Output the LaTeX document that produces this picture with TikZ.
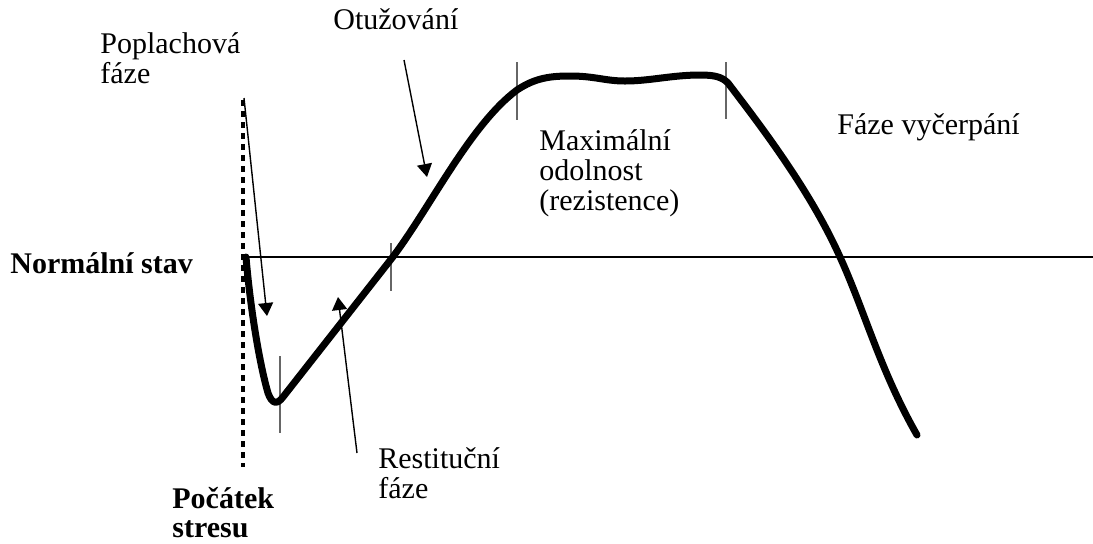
\documentclass[tikz,border=0pt]{standalone}
\usepackage{fontspec}
\setmainfont{Liberation Serif}
\usetikzlibrary{arrows.meta, positioning}

\begin{document}
\begin{tikzpicture}[x=0.5pt, y=-0.5pt,
    phaselabel/.style={anchor=base west, inner sep=0pt, align=left, font=\fontsize{15}{15}\selectfont},
    boldlabel/.style={phaselabel, font=\fontsize{15}{14.5}\selectfont\bfseries},
    tick/.style={draw=black!60, line width=0.7pt},
    pointer/.style={draw, -{Triangle[length=6.5pt, width=7.5pt]}, line width=0.7pt},
    stresscurve/.style={draw, line width=3.5pt, line cap=round, line join=round}]
    \useasboundingbox (0,0) rectangle (1093,543);

    % axes: normal level and onset of stress
    \coordinate (normal start) at (246,257);
    \coordinate (normal end) at (1093,257);
    \coordinate (stress top) at (243,100);
    \coordinate (stress bottom) at (243,467);
    \draw [line width=0.6pt] (normal start) -- (normal end);
    \draw [line width=1.6pt, dash pattern=on 3pt off 2.5pt] (stress top) -- (stress bottom);

    % phase boundaries
    \draw [tick] (280,356) -- (280,433);
    \draw [tick] (391,243) -- (391,291);
    \draw [tick] (517,62) -- (517,120);
    \draw [tick] (726,62) -- (726,119);

    % the curve
    \draw [stresscurve] (normal start) .. controls (250,305) and (259,362) .. (268,393)
        .. controls (272,404) and (277,405) .. (283,397)
        -- (392,258)
        .. controls (430,208) and (470,125) .. (517,90)
        .. controls (535,78) and (550,76) .. (570,76)
        .. controls (595,76) and (605,81) .. (625,81)
        .. controls (650,81) and (672,75) .. (700,75)
        .. controls (715,75) and (722,77) .. (728,83)
        .. controls (760,125) and (810,190) .. (840,257)
        .. controls (865,312) and (880,370) .. (917,435);

    % labels (base = last line)
    \node [phaselabel] (alarm) at (100,83) {Poplachová\\fáze};
    \node [phaselabel] (harden) at (333,29) {Otužování};
    \node [phaselabel] (resist) at (539,210) {Maximální\\odolnost\\(rezistence)};
    \node [phaselabel] (exhaust) at (837,134) {Fáze vyčerpání};
    \node [boldlabel] (normal) at (10,273) {Normální stav};
    \node [phaselabel] (restore) at (378,498) {Restituční\\fáze};
    \node [boldlabel] (onset) at (172,537) {Počátek\\stresu};

    % pointers
    \coordinate (alarm from) at (244,98);
    \coordinate (alarm to) at (267,316);
    \coordinate (harden from) at (404,60);
    \coordinate (harden to) at (427,177);
    \coordinate (restore from) at (357,453);
    \coordinate (restore to) at (338,297);
    \path [pointer] (alarm from) -- (alarm to);
    \path [pointer] (harden from) -- (harden to);
    \path [pointer] (restore from) -- (restore to);
\end{tikzpicture}
\end{document}
